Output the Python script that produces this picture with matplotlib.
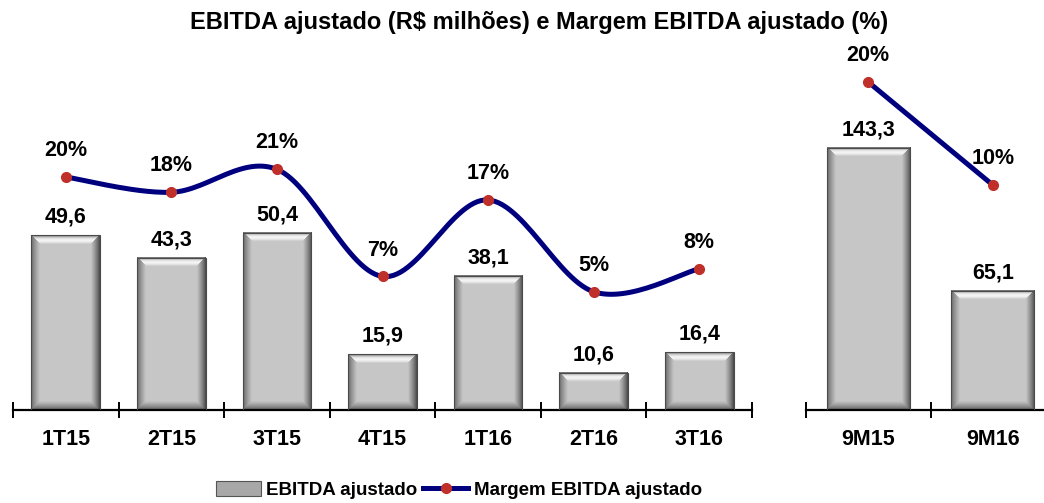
import numpy as np
import matplotlib.pyplot as plt
from matplotlib.patches import Patch
from matplotlib.lines import Line2D

quarters = ['1T15', '2T15', '3T15', '4T15', '1T16', '2T16', '3T16']
ebitda_q = [49.6, 43.3, 50.4, 15.9, 38.1, 10.6, 16.4]
margem_q = [20, 18, 21, 7, 17, 5, 8]

periods = ['9M15', '9M16']
ebitda_9m = [143.3, 65.1]
margem_9m = [20, 10]

plt.rcParams['font.family'] = ['Liberation Sans', 'DejaVu Sans']
plt.rcParams['font.weight'] = 'bold'

NAVY = '#00007f'
RED = '#c0302a'
LBL = 15.5

W, H = 1044, 503
fig = plt.figure(figsize=(W / 100, H / 100), dpi=100)


def px_axes(x0, x1, base, top):
    return fig.add_axes([x0 / W, 1 - base / H, (x1 - x0) / W, (base - top) / H])


def bevel(w, h, b=9):
    w = max(int(round(w)), 2)
    h = max(int(round(h)), 2)
    yy, xx = np.mgrid[0:h, 0:w] + 0.5
    dl, dr, dt, db = xx, w - xx, yy, h - yy
    d = np.minimum(np.minimum(dl, dr), np.minimum(dt, db))
    img = np.full((h, w), 0.78)
    t = np.clip(d / b, 0, 1)
    side = np.argmin(np.stack([dl, dr, dt, db]), axis=0)
    m = d < b
    img = np.where(m & (side == 0), 0.38 + 0.40 * t ** 0.8, img)
    img = np.where(m & (side == 1), 0.26 + 0.52 * t ** 0.8, img)
    img = np.where(m & (side == 3), 0.34 + 0.44 * t ** 0.8, img)
    top = 0.78 + 0.21 * np.sin(np.pi * t) - 0.40 * (1 - t) ** 3
    img = np.where(m & (side == 2), top, img)
    return np.dstack([img, img, img])


def smooth(x, y, n=30):
    # Catmull-Rom curve through the points (Excel style smoothed line)
    p = np.column_stack([x, y]).astype(float)
    p = np.vstack([p[0], p, p[-1]])
    out = []
    for i in range(1, len(p) - 2):
        p0, p1, p2, p3 = p[i - 1], p[i], p[i + 1], p[i + 2]
        t = np.linspace(0, 1, n)[:, None]
        c = 0.5 * ((2 * p1) + (-p0 + p2) * t + (2 * p0 - 5 * p1 + 4 * p2 - p3) * t ** 2
                   + (-p0 + 3 * p1 - 3 * p2 + p3) * t ** 3)
        out.append(c)
    c = np.vstack(out)
    return c[:, 0], c[:, 1]


def panel(ax, cats, vals, marg, width, ymax, lmin, lmax, curved):
    x = np.arange(len(cats))
    ax.set_xlim(-0.5, len(cats) - 0.5)
    ax.set_ylim(0, ymax)
    bars = ax.bar(x, vals, width, color='#c6c6c6', edgecolor='#4a4a4a', linewidth=0.8, zorder=3)
    for b in bars:
        bx, by = b.get_x(), b.get_y()
        p0 = ax.transData.transform((bx, by))
        p1 = ax.transData.transform((bx + b.get_width(), by + b.get_height()))
        ax.imshow(bevel(p1[0] - p0[0], p1[1] - p0[1]), extent=(bx, bx + b.get_width(), by, by + b.get_height()),
                  aspect='auto', interpolation='bilinear', zorder=2.5)
        b.set_facecolor('none')
    for xi, v in zip(x, vals):
        ax.annotate(f'{v:.1f}'.replace('.', ','), (xi, v), xytext=(0, 13), textcoords='offset points',
                    ha='center', va='center', fontsize=LBL, fontweight='bold')
    ax.set_xlim(-0.5, len(cats) - 0.5)
    ax.set_ylim(0, ymax)
    for s in ['left', 'right', 'top']:
        ax.spines[s].set_visible(False)
    ax.spines['bottom'].set_linewidth(1.6)
    ax.set_yticks([])
    ax.set_xticks(x)
    ax.set_xticklabels(cats, fontsize=LBL, fontweight='bold')
    ax.tick_params(axis='x', which='major', length=0, pad=14)
    ax.set_xticks(np.arange(len(cats) + 1) - 0.5, minor=True)
    ax.tick_params(axis='x', which='minor', direction='inout', length=12, width=1.4)
    ax.patch.set_visible(False)

    ax2 = ax.twinx()
    ax2.set_ylim(lmin, lmax)
    ax2.set_xlim(-0.5, len(cats) - 0.5)
    ax2.axis('off')
    if curved:
        sx, sy = smooth(x, marg)
    else:
        sx, sy = x, marg
    ax2.plot(sx, sy, color=NAVY, lw=3.6, solid_capstyle='round', zorder=4)
    ax2.plot(x, marg, 'o', color=RED, ms=7, zorder=5)
    for xi, m in zip(x, marg):
        ax2.annotate(f'{m}%', (xi, m), xytext=(0, 19), textcoords='offset points',
                     ha='center', va='center', fontsize=LBL, fontweight='bold')


base, top = 410, 49
axl = px_axes(13, 752, base, top)
panel(axl, quarters, ebitda_q, margem_q, 0.65, (base - top) / 3.52,
      -80 / 7.65, -80 / 7.65 + (base - top) / 7.65, True)

axr = px_axes(806, 1055, base, top)
panel(axr, periods, ebitda_9m, margem_9m, 0.67, (base - top) / 1.83,
      -122 / 10.3, -122 / 10.3 + (base - top) / 10.3, False)

fig.text(539 / W, 1 - 22 / H, 'EBITDA ajustado (R$ milhões) e Margem EBITDA ajustado (%)',
         ha='center', va='center', fontsize=17, fontweight='bold')

handles = [Patch(facecolor='#a8a8a8', edgecolor='#555555', linewidth=0.8),
           Line2D([0], [0], color=NAVY, lw=3.6, marker='o', markerfacecolor=RED, markeredgecolor=RED, ms=7)]
fig.legend(handles, ['EBITDA ajustado', 'Margem EBITDA ajustado'], loc='center',
           bbox_to_anchor=(459 / W, 1 - 490 / H), ncol=2, frameon=False, fontsize=13.5,
           handlelength=2.4, handleheight=0.9, columnspacing=0.3, handletextpad=0.3)

fig.savefig('out.png', dpi=100)
